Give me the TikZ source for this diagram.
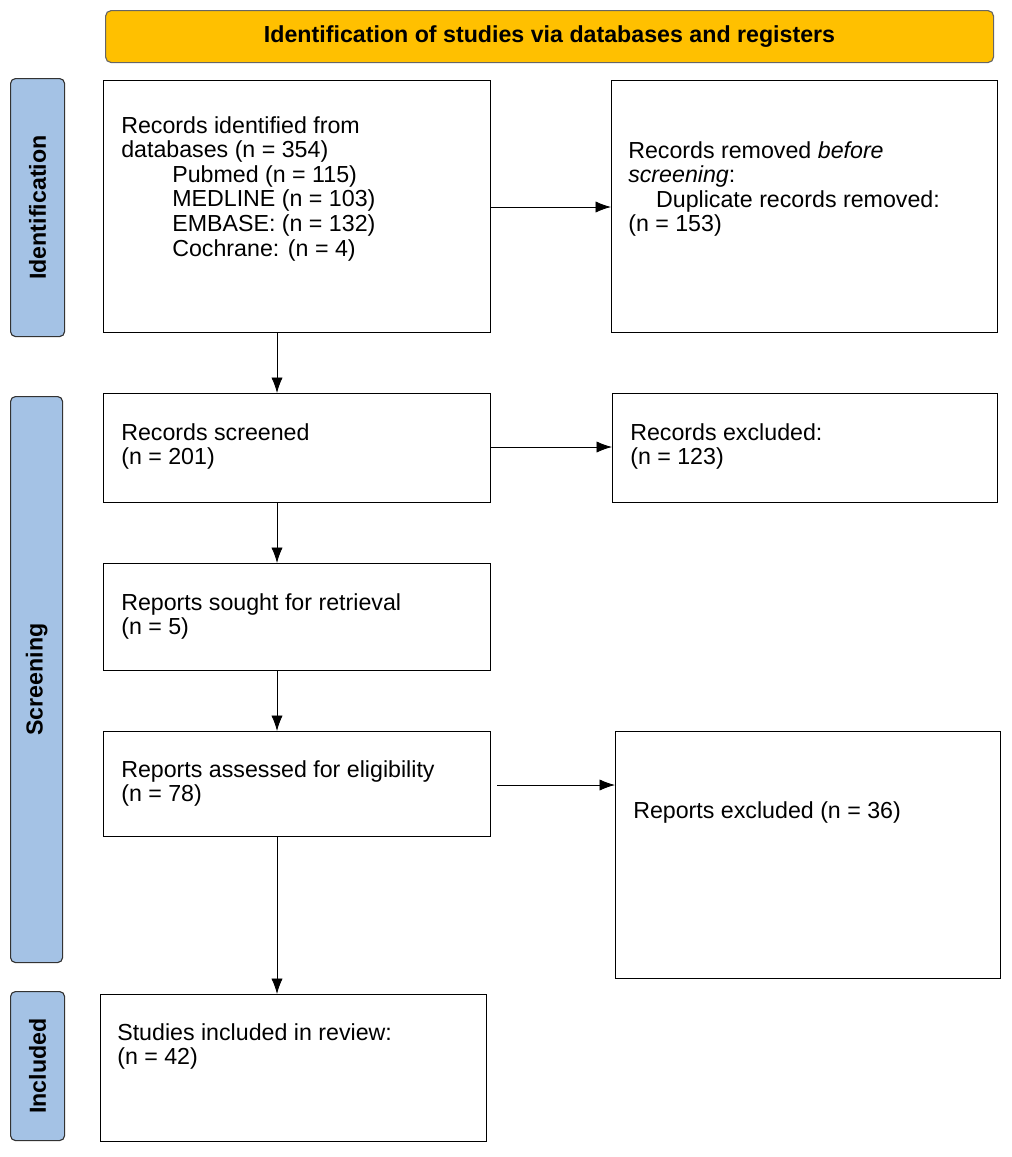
\documentclass[tikz,border=0pt]{standalone}
\usepackage{fontspec}
\setmainfont{Liberation Sans}
\tikzset{>=latex}
\usetikzlibrary{positioning,arrows.meta}
\definecolor{barorange}{HTML}{FFC000}
\definecolor{sideblue}{HTML}{A4C2E5}
\begin{document}
\begin{tikzpicture}[x=0.025cm, y=-0.025cm,
box/.style={draw=black, semithick, inner sep=0pt, anchor=north west},
side/.style={draw=black!80, thick, fill=sideblue, rounded corners=0.35em, inner sep=0pt, anchor=north west},
txt/.style={anchor=north west, inner sep=0pt, align=left, font=\fontsize{16.5}{17.5}\selectfont},
sidetxt/.style={rotate=90, font=\bfseries\fontsize{16.5}{18}\selectfont},
arr/.style={-{Latex[length=11pt,width=8pt]}, semithick}]
\useasboundingbox (0,0) rectangle (1012,1157);
% heading and phases
\node[draw=black!60, thick, fill=barorange, rounded corners=0.4em, minimum width=888*0.025cm, minimum height=52*0.025cm, anchor=north west, font=\bfseries\fontsize{16.5}{18}\selectfont] (head) at (105,10) {Identification of studies via databases and registers};
\node[side, minimum width=54*0.025cm, minimum height=258*0.025cm] (sidA) at (10,78) {};
\node[sidetxt] at (sidA.center) {Identification};
\node[side, minimum width=52*0.025cm, minimum height=566*0.025cm] (sidB) at (10,396) {};
\node[sidetxt] at (sidB.center) {Screening};
\node[side, minimum width=54*0.025cm, minimum height=149*0.025cm] (sidC) at (10,991) {};
\node[sidetxt] at (sidC.center) {Included};
% boxes
\node[box, minimum width=387*0.025cm, minimum height=252*0.025cm] (b1) at (103,80) {};
\node[box, minimum width=386*0.025cm, minimum height=252*0.025cm] (b1r) at (611,80) {};
\node[box, minimum width=387*0.025cm, minimum height=109*0.025cm] (b2) at (103,393) {};
\node[box, minimum width=385*0.025cm, minimum height=109*0.025cm] (b2r) at (612,393) {};
\node[box, minimum width=387*0.025cm, minimum height=107*0.025cm] (b3) at (103,563) {};
\node[box, minimum width=387*0.025cm, minimum height=105*0.025cm] (b4) at (103,731) {};
\node[box, minimum width=385*0.025cm, minimum height=247*0.025cm] (b4r) at (615,731) {};
\node[box, minimum width=386*0.025cm, minimum height=147*0.025cm] (b5) at (100,994) {};
% texts
\node[txt] (t1) at (121,116) {Records identified from\\databases (n = 354)\\\hspace{2.2em}Pubmed (n = 115)\\\hspace{2.2em}MEDLINE (n = 103)\\\hspace{2.2em}EMBASE: (n = 132)\\\hspace{2.2em}Cochrane: (n = 4)};
\node[txt] (t1r) at (628,141) {Records removed \emph{before}\\\emph{screening}:\\\hspace{1.2em}Duplicate records removed:\\(n = 153)};
\node[txt] (t2) at (121,423) {Records screened\\(n = 201)};
\node[txt] (t2r) at (630,423) {Records excluded:\\(n = 123)};
\node[txt] (t3) at (121,593) {Reports sought for retrieval\\(n = 5)};
\node[txt] (t4) at (121,760) {Reports assessed for eligibility\\(n = 78)};
\node[txt] (t4r) at (633,801) {Reports excluded (n = 36)};
\node[txt] (t5) at (117,1023) {Studies included in review:\\(n = 42)};
% arrows
\coordinate (ax) at (277,0);
\coordinate (ay1) at (0,207);
\coordinate (ay2) at (0,447);
\coordinate (ay4) at (497,785);
\draw[arr] (ax |- b1.south) -- (ax |- b2.north);
\draw[arr] (ax |- b2.south) -- (ax |- b3.north);
\draw[arr] (ax |- b3.south) -- (ax |- b4.north);
\draw[arr] (ax |- b4.south) -- (ax |- b5.north);
\draw[arr] (b1.east |- ay1) -- (b1r.west |- ay1);
\draw[arr] (b2.east |- ay2) -- (b2r.west |- ay2);
\draw[arr] (ay4) -- (b4r.west |- ay4);
\end{tikzpicture}
\end{document}
